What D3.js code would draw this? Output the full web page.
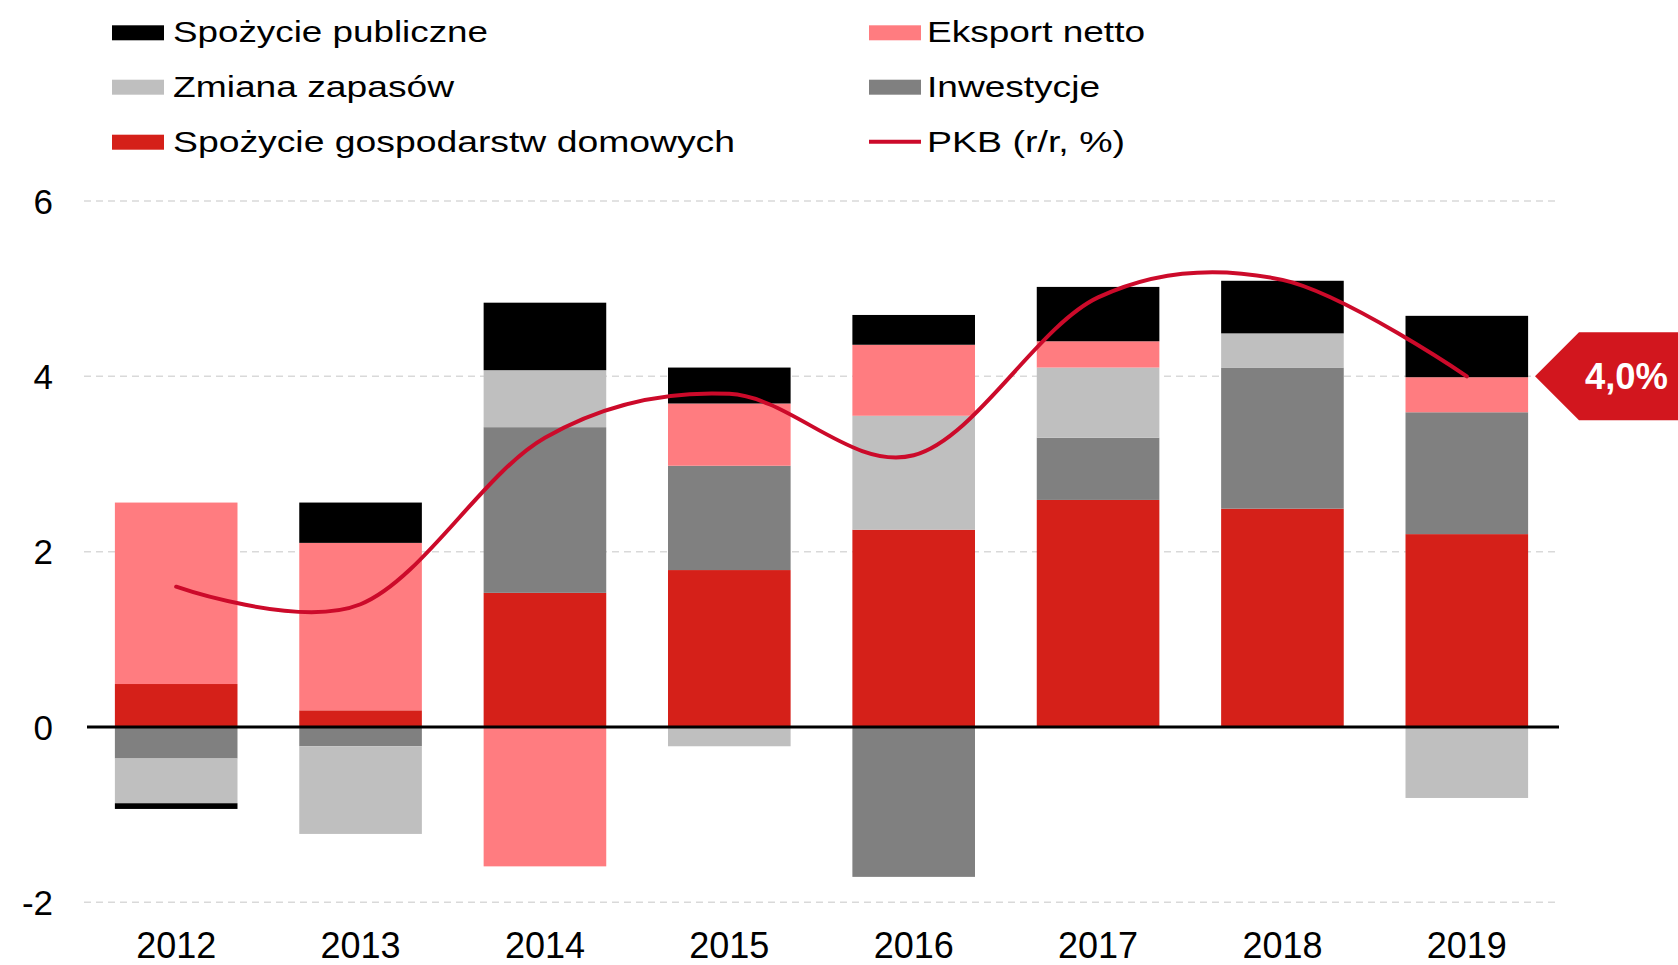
<!DOCTYPE html>
<html>
<head>
<meta charset="utf-8">
<script src="https://cdn.jsdelivr.net/npm/d3@7/dist/d3.min.js"></script>
<style>
  html, body { margin: 0; padding: 0; background: #fff; }
  svg { display: block; font-family: "Liberation Sans", Arial, sans-serif; }
</style>
</head>
<body>
<svg id="chart" width="1678" height="965"></svg>
<script>
// ---- data ----
const years = ["2012", "2013", "2014", "2015", "2016", "2017", "2018", "2019"];
const household  = [0.49, 0.19, 1.53, 1.79, 2.25, 2.59, 2.49, 2.20]; // Spożycie gospodarstw domowych
const investment = [-0.36, -0.22, 1.89, 1.19, -1.71, 0.71, 1.61, 1.39]; // Inwestycje
const inventories = [-0.51, -1.00, 0.65, -0.22, 1.30, 0.80, 0.39, -0.81]; // Zmiana zapasów
const netExport  = [2.07, 1.91, -1.59, 0.71, 0.81, 0.30, 0.00, 0.40]; // Eksport netto
const publicCons = [-0.065, 0.46, 0.77, 0.41, 0.34, 0.62, 0.60, 0.70]; // Spożycie publiczne
const gdp        = [1.6, 1.4, 3.3, 3.8, 3.1, 4.9, 5.1, 4.0]; // PKB (r/r, %)
const yTicks = [-2, 0, 2, 4, 6];
const yTickLabels = ["-2", "0", "2", "4", "6"];

const seriesKeys = ["household", "investment", "inventories", "netExport", "publicCons"];
const seriesValues = { household, investment, inventories, netExport, publicCons };
const colors = {
  household: "#D52019",
  investment: "#808080",
  inventories: "#BFBFBF",
  netExport: "#FF7C80",
  publicCons: "#000000"
};
const lineColor = "#CC0A2A";

const legendLeft = [
  { label: "Spożycie publiczne", key: "publicCons", w: 315 },
  { label: "Zmiana zapasów", key: "inventories", w: 281 },
  { label: "Spożycie gospodarstw domowych", key: "household", w: 562 }
];
const legendRight = [
  { label: "Eksport netto", key: "netExport", w: 218 },
  { label: "Inwestycje", key: "investment", w: 173 },
  { label: "PKB (r/r, %)", key: "line", w: 198 }
];

// ---- layout ----
const svg = d3.select("#chart");
const x = d3.scaleBand().domain(years).range([84, 1559]).paddingInner(0.335).paddingOuter(0.1675);
const y = d3.scaleLinear().domain([-2, 6]).range([902.3, 201]);

// gridlines
svg.append("g").selectAll("line")
  .data(yTicks.filter(d => d !== 0))
  .join("line")
  .attr("x1", 84).attr("x2", 1559)
  .attr("y1", d => y(d)).attr("y2", d => y(d))
  .attr("stroke", "#D9D9D9").attr("stroke-width", 1.5)
  .attr("stroke-dasharray", "7,5");

// y-axis labels
const yAxis = d3.axisLeft(y).tickValues(yTicks).tickSize(0).tickPadding(0)
  .tickFormat((d, i) => yTickLabels[i]);
const yg = svg.append("g").attr("transform", "translate(53,0)").call(yAxis);
yg.select(".domain").remove();
yg.selectAll("text").attr("font-size", 35).attr("fill", "#000")
  .attr("font-family", "'Liberation Sans', Arial, sans-serif").attr("dy", "0.35em");

// stacked bars
const table = years.map((yr, i) => {
  const o = { year: yr };
  seriesKeys.forEach(k => o[k] = seriesValues[k][i]);
  return o;
});
const stack = d3.stack().keys(seriesKeys).offset(d3.stackOffsetDiverging);
const stacked = stack(table);

svg.append("g").selectAll("g")
  .data(stacked)
  .join("g")
  .attr("fill", d => colors[d.key])
  .selectAll("rect")
  .data(d => d)
  .join("rect")
  .attr("x", d => x(d.data.year))
  .attr("width", x.bandwidth())
  .attr("y", d => y(Math.max(d[0], d[1])))
  .attr("height", d => Math.abs(y(d[0]) - y(d[1])));

// zero line
svg.append("line")
  .attr("x1", 87).attr("x2", 1559)
  .attr("y1", y(0)).attr("y2", y(0))
  .attr("stroke", "#000").attr("stroke-width", 3);

// x-axis labels
const xAxis = d3.axisBottom(x).tickSize(0).tickPadding(0);
const xg = svg.append("g").attr("transform", "translate(0,958)").call(xAxis);
xg.select(".domain").remove();
xg.selectAll("text").attr("font-size", 36).attr("fill", "#000")
  .attr("font-family", "'Liberation Sans', Arial, sans-serif").attr("dy", 0).attr("y", 0);

// GDP line
const line = d3.line()
  .x((d, i) => x(years[i]) + x.bandwidth() / 2)
  .y(d => y(d))
  .curve(d3.curveCatmullRom.alpha(0));
svg.append("path")
  .datum(gdp)
  .attr("d", line)
  .attr("fill", "none")
  .attr("stroke", lineColor)
  .attr("stroke-width", 4)
  .attr("stroke-linecap", "round");

// last value label
const last = gdp[gdp.length - 1];
const ly = y(last);
const tipX = 1535;
svg.append("polygon")
  .attr("points", [[tipX, ly], [tipX + 44, ly - 44], [1678, ly - 44], [1678, ly + 44], [tipX + 44, ly + 44]].map(p => p.join(",")).join(" "))
  .attr("fill", "#D2161E");
svg.append("text")
  .attr("x", 1585).attr("y", ly + 13)
  .attr("font-size", 37).attr("font-weight", "bold").attr("fill", "#fff")
  .attr("textLength", 83).attr("lengthAdjust", "spacingAndGlyphs")
  .text(d3.format(".1f")(last).replace(".", ",") + "%");

// legend
const baselines = [42.3, 96.7, 151.7];
function drawLegend(items, swX, txX) {
  const g = svg.append("g");
  items.forEach((it, i) => {
    const b = baselines[i];
    if (it.key === "line") {
      g.append("line").attr("x1", swX).attr("x2", swX + 52)
        .attr("y1", b - 10).attr("y2", b - 10)
        .attr("stroke", lineColor).attr("stroke-width", 4);
    } else {
      g.append("rect").attr("x", swX).attr("y", b - 17).attr("width", 52).attr("height", 15)
        .attr("fill", colors[it.key]);
    }
    g.append("text").attr("x", txX).attr("y", b)
      .attr("font-size", 30).attr("fill", "#000")
      .attr("textLength", it.w).attr("lengthAdjust", "spacingAndGlyphs")
      .text(it.label);
  });
}
drawLegend(legendLeft, 112, 173);
drawLegend(legendRight, 869, 927);
</script>
</body>
</html>
